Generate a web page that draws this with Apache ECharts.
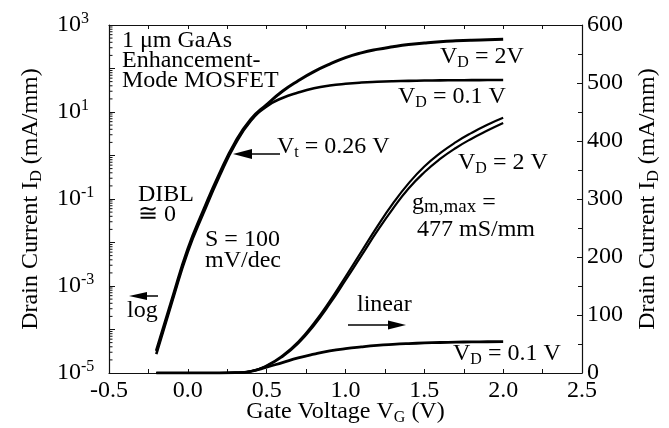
<!DOCTYPE html>
<html><head><meta charset="utf-8">
<script src="https://cdn.jsdelivr.net/npm/echarts@6/dist/echarts.min.js"></script>
<style>html,body{margin:0;padding:0;background:#fff}#c{width:669px;height:428px}</style>
</head><body><div id="c"></div>
<script>
// Gate voltage samples (V)
const gateVoltage = [-0.2,-0.1,0.0,0.1,0.2,0.3,0.4,0.5,0.6,0.7,0.8,0.9,1.0,1.1,1.2,1.3,1.4,1.5,1.6,1.7,1.8,1.9,2.0];
// Log-scale drain current (mA/mm), left axis
const logIdVd2  = [3.2e-5,5.0e-4,7.1e-3,0.056,0.38,2.0,6.8,14.8,30,52.5,85,126,178,229,275,316,355,385,412,432,447,457,468];
const logIdVd01 = [2.7e-5,4.3e-4,6.1e-3,0.048,0.33,1.8,6.3,13.5,21,28,35,40.5,44.5,47.5,49.5,51,52,52.8,53.3,53.7,54,54.2,54.3];
// Linear-scale drain current (mA/mm), right axis
const linIdVd2Up   = [0,0,0,0,0,0.5,3,13,30,54,86,124,166,209,252,292,327,356,379,398,414,428,440];
const linIdVd2Down = [0,0,0,0,0,0.5,3,12,28,51,82,119,160,202,244,283,318,346,369,388,404,418,431];
const linIdVd01    = [0,0,0,0,0,0.5,3,10,18,26,32.5,38,42,45,47.5,49.3,50.7,51.8,52.6,53.2,53.6,53.9,54];
// Axis settings
const xRange = [-0.5, 2.5];
const logRange = [1e-5, 1e3];
const linRange = [0, 600];
const logMinorMultipliers = [2,3,4,5,6,7,8,9];
const logDecades = [-5,-4,-3,-2,-1,0,1,2];

const FF = '"Liberation Serif", "Times New Roman", serif';
const BLK = '#000';
const pairs = ys => gateVoltage.map((x, i) => [x, ys[i]]);

const minorTickData = [];
logDecades.forEach(e => logMinorMultipliers.forEach(m => minorTickData.push([xRange[0], m * Math.pow(10, e)])));

const richAxis = {
  b: {fontSize: 24, fontFamily: FF, color: BLK, lineHeight: 28, verticalAlign: 'middle'},
  p: {fontSize: 16, fontFamily: FF, color: BLK, lineHeight: 16, verticalAlign: 'top'},
  s: {fontSize: 16, fontFamily: FF, color: BLK, lineHeight: 16, verticalAlign: 'bottom'}
};
const richG = {
  v: {fontSize: 24, fontFamily: FF, fill: BLK, lineHeight: 28, verticalAlign: 'middle'},
  s: {fontSize: 16, fontFamily: FF, fill: BLK, lineHeight: 16, verticalAlign: 'bottom'},
  m: {fontSize: 19, fontFamily: FF, fill: BLK, lineHeight: 19, verticalAlign: 'bottom'}
};
function txt(x, y, str) {
  return {type: 'text', x: x, y: y, silent: true, z: 50,
    style: {text: str, rich: richG, align: 'left', verticalAlign: 'middle', font: '24px ' + FF, fill: BLK}};
}
function arrow(x1, y, x2, tipX, baseX, half) {
  return [
    {type: 'line', silent: true, z: 50, shape: {x1: x1, y1: y, x2: x2, y2: y}, style: {stroke: BLK, lineWidth: 1.5}},
    {type: 'polygon', silent: true, z: 50, shape: {points: [[tipX, y], [baseX, y - half], [baseX, y + half]]}, style: {fill: BLK}}
  ];
}

const axisLine = {show: true, onZero: false, lineStyle: {color: '#111', width: 1.2}};
const lineSeries = (data, yIdx, w) => ({
  type: 'line', xAxisIndex: 0, yAxisIndex: yIdx, data: pairs(data), showSymbol: false, symbol: 'none',
  smooth: 0.5, lineStyle: {color: BLK, width: w}, z: 5
});

const chart = echarts.init(document.getElementById('c'), null, {renderer: 'canvas'});
chart.setOption({
  animation: false,
  backgroundColor: '#fff',
  grid: {left: 109, right: 87, top: 25, bottom: 55, containLabel: false, outerBoundsMode: 'none'},
  xAxis: [
    {type: 'value', position: 'bottom', min: xRange[0], max: xRange[1], interval: 0.5,
     axisLine: axisLine, axisTick: {show: true, inside: true, length: 4, lineStyle: {color: '#111'}},
     minorTick: {show: true, splitNumber: 2, length: 4, lineStyle: {color: '#111'}},
     splitLine: {show: false}, minorSplitLine: {show: false},
     axisLabel: {formatter: v => v.toFixed(1), fontSize: 24, fontFamily: FF, color: BLK, margin: 6},
     name: '{b|Gate Voltage V}{s|G}{b| (V)}', nameLocation: 'middle', nameGap: 25, nameMoveOverlap: false,
     nameTextStyle: {rich: richAxis}},
    {type: 'value', position: 'top', min: xRange[0], max: xRange[1], interval: 0.5,
     axisLine: axisLine, axisTick: {show: true, inside: true, length: 4, lineStyle: {color: '#111'}},
     minorTick: {show: true, splitNumber: 2, length: 4, lineStyle: {color: '#111'}},
     splitLine: {show: false}, axisLabel: {show: false}}
  ],
  yAxis: [
    {type: 'log', logBase: 10, position: 'left', min: logRange[0], max: logRange[1], interval: 1, splitNumber: 8,
     axisLine: axisLine, axisTick: {show: true, inside: true, length: 6, lineStyle: {color: '#111'}},
     splitLine: {show: false},
     axisLabel: {align: 'left', margin: 52, rich: richAxis,
       formatter: v => { const e = Math.round(Math.log10(v)); return (e % 2 !== 0) ? '{b|10}{p|' + e + '}' : ''; }},
     name: '{b|Drain Current I}{s|D}{b| (mA/mm)}', nameLocation: 'middle', nameRotate: 90, nameGap: 64,
     nameTextStyle: {rich: richAxis}},
    {type: 'value', position: 'right', min: linRange[0], max: linRange[1], interval: 100,
     axisLine: axisLine, axisTick: {show: true, inside: true, length: 5, lineStyle: {color: '#111'}},
     minorTick: {show: true, splitNumber: 2, length: 4, lineStyle: {color: '#111'}},
     splitLine: {show: false}, minorSplitLine: {show: false},
     axisLabel: {fontSize: 24, fontFamily: FF, color: BLK, margin: 5},
     name: '{b|Drain Current I}{s|D}{b| (mA/mm)}', nameLocation: 'middle', nameRotate: 90, nameGap: 52,
     nameTextStyle: {rich: richAxis}}
  ],
  series: [
    lineSeries(logIdVd2, 0, 3),
    lineSeries(logIdVd01, 0, 2.6),
    lineSeries(linIdVd2Up, 1, 2.2),
    lineSeries(linIdVd2Down, 1, 2.2),
    lineSeries(linIdVd01, 1, 2.8),
    {type: 'custom', xAxisIndex: 0, yAxisIndex: 0, silent: true, clip: false, z: 6,
     data: minorTickData,
     renderItem: (params, api) => {
       const p = api.coord([api.value(0), api.value(1)]);
       return {type: 'line', shape: {x1: p[0], y1: p[1], x2: p[0] + 3.5, y2: p[1]}, style: {stroke: '#111', lineWidth: 1}};
     }}
  ],
  graphic: [
    txt(122, 41, '{v|1 μm GaAs}'),
    txt(122, 61, '{v|Enhancement-}'),
    txt(122, 81, '{v|Mode MOSFET}'),
    txt(440, 57, '{v|V}{s|D}{v| = 2V}'),
    txt(398, 97, '{v|V}{s|D}{v| = 0.1 V}'),
    txt(277, 147, '{v|V}{s|t}{v| = 0.26 V}'),
    txt(458, 163, '{v|V}{s|D}{v| = 2 V}'),
    txt(412, 203, '{v|g}{m|m,max}{v| =}'),
    txt(417, 230, '{v|477 mS/mm}'),
    txt(138, 195, '{v|DIBL}'),
    txt(138, 215, '{v|≅ 0}'),
    txt(205, 240, '{v|S = 100}'),
    txt(205, 261, '{v|mV/dec}'),
    txt(127, 311, '{v|log}'),
    txt(357, 305, '{v|linear}'),
    txt(453, 354, '{v|V}{s|D}{v| = 0.1 V}'),
    ...arrow(280, 154, 250, 233, 252, 5),
    ...arrow(158, 296, 145, 129, 147, 4),
    ...arrow(348, 325, 390, 406, 388, 4.5)
  ]
});
</script></body></html>
